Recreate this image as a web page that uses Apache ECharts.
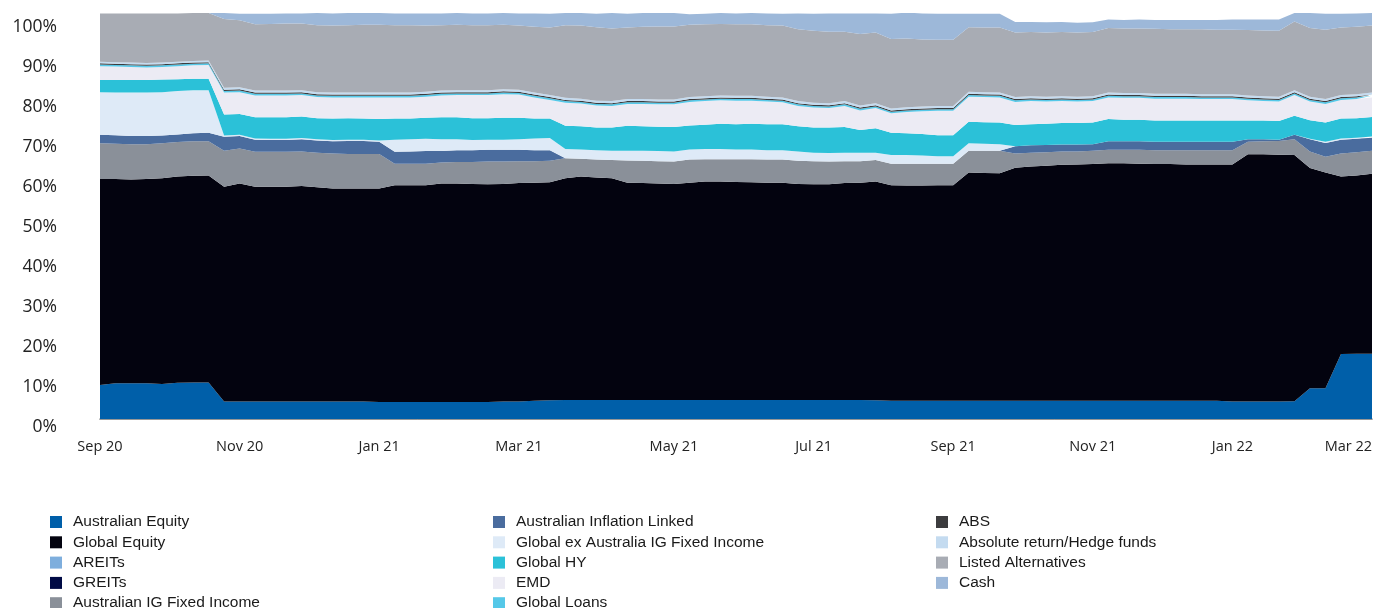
<!DOCTYPE html>
<html>
<head>
<meta charset="utf-8">
<script src="https://cdn.jsdelivr.net/npm/echarts@6/dist/echarts.min.js"></script>
<style>
html,body{margin:0;padding:0;background:#fff;}
#chart{width:1375px;height:608px;}
</style>
</head>
<body>
<div id="chart"></div>
<script>
// Weekly observation dates (category axis)
const categories = [
'2020-09-04','2020-09-11','2020-09-18','2020-09-25','2020-10-02','2020-10-09','2020-10-16','2020-10-23','2020-10-30','2020-11-06',
'2020-11-13','2020-11-20','2020-11-27','2020-12-04','2020-12-11','2020-12-18','2020-12-25','2021-01-01','2021-01-08','2021-01-15',
'2021-01-22','2021-01-29','2021-02-05','2021-02-12','2021-02-19','2021-02-26','2021-03-05','2021-03-12','2021-03-19','2021-03-26',
'2021-04-02','2021-04-09','2021-04-16','2021-04-23','2021-04-30','2021-05-07','2021-05-14','2021-05-21','2021-05-28','2021-06-04',
'2021-06-11','2021-06-18','2021-06-25','2021-07-02','2021-07-09','2021-07-16','2021-07-23','2021-07-30','2021-08-06','2021-08-13',
'2021-08-20','2021-08-27','2021-09-03','2021-09-10','2021-09-17','2021-09-24','2021-10-01','2021-10-08','2021-10-15','2021-10-22',
'2021-10-29','2021-11-05','2021-11-12','2021-11-19','2021-11-26','2021-12-03','2021-12-10','2021-12-17','2021-12-24','2021-12-31',
'2022-01-07','2022-01-14','2022-01-21','2022-01-28','2022-02-04','2022-02-11','2022-02-18','2022-02-25','2022-03-04','2022-03-11',
'2022-03-18','2022-03-25','2022-03-31'
];

// X tick labels and the category index they sit on
const tickLabels = ['Sep 20','Nov 20','Jan 21','Mar 21','May 21','Jul 21','Sep 21','Nov 21','Jan 22','Mar 22'];
const tickIndex  = [0, 9, 18, 27, 37, 46, 55, 64, 73, 82];

// Series values (% of portfolio), stacked bottom to top
const australianEquity = [
8.4,8.8,8.8,8.8,8.6,8.9,9.0,9.0,4.3,4.3,
4.3,4.3,4.3,4.3,4.3,4.3,4.3,4.3,4.2,4.2,
4.2,4.2,4.2,4.2,4.2,4.2,4.3,4.3,4.5,4.6,
4.7,4.7,4.7,4.7,4.7,4.7,4.7,4.7,4.7,4.7,
4.7,4.7,4.7,4.7,4.7,4.7,4.7,4.7,4.7,4.7,
4.6,4.5,4.5,4.5,4.5,4.5,4.5,4.5,4.5,4.5,
4.5,4.5,4.5,4.5,4.5,4.5,4.5,4.5,4.5,4.5,
4.5,4.5,4.5,4.3,4.3,4.3,4.3,4.4,7.6,7.6,
16.0,16.1,16.1];
const globalEquity = [
50.7,50.3,50.2,50.3,50.7,50.8,50.9,51.0,52.9,53.7,
52.9,52.9,52.9,53.1,52.8,52.5,52.5,52.5,52.6,53.4,
53.4,53.4,53.8,53.8,53.7,53.6,53.6,53.8,53.7,53.7,
54.6,55.0,54.8,54.6,53.5,53.4,53.3,53.2,53.5,53.8,
53.8,53.7,53.6,53.5,53.5,53.2,53.1,53.1,53.4,53.5,
53.9,53.1,53.0,53.0,53.1,53.1,56.2,56.1,56.0,57.4,
57.7,57.9,58.1,58.2,58.3,58.5,58.5,58.4,58.3,58.3,
58.2,58.2,58.2,58.4,60.9,60.9,60.8,60.6,54.2,53.1,
43.7,43.9,44.3];
const areits = [
0,0,0,0,0,0,0,0,0,0, 0,0,0,0,0,0,0,0,0,0, 0,0,0,0,0,0,0,0,0,0,
0,0,0,0,0,0,0,0,0,0, 0,0,0,0,0,0,0,0,0,0, 0,0,0,0,0,0,0,0,0,0,
0,0,0,0,0,0,0,0,0,0, 0,0,0,0,0,0,0,0,0,0, 0,0,0];
const greits = [
0,0,0,0,0,0,0,0,0,0, 0,0,0,0,0,0,0,0,0,0, 0,0,0,0,0,0,0,0,0,0,
0,0,0,0,0,0,0,0,0,0, 0,0,0,0,0,0,0,0,0,0, 0,0,0,0,0,0,0,0,0,0,
0,0,0,0,0,0,0,0,0,0, 0,0,0,0,0,0,0,0,0,0, 0,0,0];
const ausIGFixedIncome = [
8.8,8.7,8.7,8.6,8.6,8.5,8.5,8.4,8.9,8.6,
8.6,8.6,8.6,8.5,8.5,8.6,8.5,8.5,8.5,5.3,
5.3,5.3,5.2,5.3,5.4,5.6,5.5,5.4,5.3,5.3,
4.9,4.4,4.4,4.5,5.5,5.5,5.5,5.5,5.7,5.5,
5.5,5.6,5.7,5.7,5.7,5.7,5.7,5.6,5.4,5.3,
5.3,5.3,5.4,5.4,5.3,5.3,5.4,5.5,5.6,3.5,
3.4,3.3,3.3,3.2,3.3,3.3,3.3,3.4,3.4,3.4,
3.5,3.5,3.5,3.5,3.1,3.2,3.4,3.9,4.1,3.9,
5.7,5.7,5.7];
const ausInflationLinked = [
2.1,2.1,2.0,2.0,1.9,1.9,2.0,2.1,3.4,3.1,
3.0,2.9,2.9,3.0,3.0,3.0,3.2,3.2,3.0,2.9,
3.0,3.1,2.8,2.9,2.9,2.9,2.9,2.8,2.7,2.6,
0,0,0,0,0,0,0,0,0,0,
0,0,0,0,0,0,0,0,0,0,
0,0,0,0,0,0,0,0,0,1.8,
1.8,1.8,1.7,1.7,1.6,2.1,2.1,2.1,2.1,2.1,
2.1,2.1,2.1,2.1,0.6,0.5,0.3,1.1,3.0,3.4,
3.4,3.3,3.2];
const globalExAusIGFI = [
10.5,10.5,10.7,10.7,10.7,10.7,10.6,10.5,0.3,0.3,
0.3,0.3,0.3,0.3,0.3,0.3,0.3,0.3,0.3,3.0,
3.0,3.0,2.9,2.7,2.5,2.5,2.5,2.6,2.9,3.0,
2.3,2.3,2.3,2.3,2.4,2.5,2.5,2.5,2.5,2.5,
2.5,2.4,2.4,2.3,2.3,2.3,2.1,2.1,2.1,2.1,
1.8,2.1,2.1,2.0,1.8,1.8,1.8,1.7,1.6,0,
0,0,0,0,0,0,0,0,0,0,
0,0,0,0,0,0,0,0,0.1,0.3,
0.3,0.3,0.3];
const globalHY = [
3.0,3.1,3.1,3.1,3.1,2.9,2.8,2.8,5.2,5.1,
5.2,5.3,5.3,5.3,5.2,5.3,5.3,5.2,5.3,5.2,
5.1,5.2,5.4,5.4,5.4,5.3,5.4,5.3,4.9,4.8,
5.7,5.7,5.6,5.7,6.1,6.0,6.0,6.0,5.9,6.0,
6.2,6.2,6.3,6.4,6.4,6.2,6.2,6.3,6.3,5.6,
6.0,5.5,5.4,5.3,5.2,5.2,5.3,5.3,5.3,5.2,
5.2,5.2,5.3,5.3,5.3,5.5,5.3,5.3,5.2,5.2,
5.2,5.2,5.2,5.2,4.6,4.6,4.6,4.7,4.6,4.7,
4.9,4.8,4.8];
const emd = [
3.4,3.3,3.2,3.1,3.1,3.2,3.3,3.4,5.4,5.4,
5.4,5.4,5.4,5.3,5.2,5.2,5.1,5.2,5.3,5.2,
5.2,5.2,5.4,5.5,5.7,5.7,5.8,5.7,5.2,4.6,
5.7,5.6,5.4,5.3,5.4,5.5,5.5,5.6,5.8,5.8,
5.8,5.8,5.7,5.6,5.4,5.0,4.9,4.8,5.2,4.8,
5.0,4.8,5.2,5.6,6.0,6.0,6.2,6.2,6.2,5.7,
5.7,5.5,5.4,5.3,5.3,5.3,5.4,5.4,5.4,5.4,
5.4,5.3,5.3,5.3,5.0,4.8,4.8,5.1,4.6,4.6,
4.6,4.7,4.8];
const globalLoans = [
0.4,0.4,0.4,0.4,0.4,0.4,0.4,0.4,0.4,0.4, 0.4,0.4,0.4,0.4,0.4,0.4,0.4,0.4,0.4,0.4,
0.4,0.4,0.4,0.4,0.4,0.4,0.4,0.4,0.4,0.4, 0.4,0.4,0.4,0.4,0.4,0.4,0.4,0.4,0.4,0.4,
0.4,0.4,0.4,0.4,0.4,0.4,0.4,0.4,0.4,0.4, 0.4,0.4,0.4,0.4,0.4,0.4,0.4,0.4,0.4,0.4,
0.4,0.4,0.4,0.4,0.4,0.4,0.4,0.4,0.4,0.4, 0.4,0.4,0.4,0.4,0.4,0.4,0.4,0.4,0.4,0.4,
0.4,0.4,0.4];
const abs = [
0.3,0.3,0.3,0.3,0.3,0.3,0.3,0.3,0.3,0.3, 0.3,0.3,0.3,0.3,0.3,0.3,0.3,0.3,0.3,0.3,
0.3,0.3,0.3,0.3,0.3,0.3,0.3,0.3,0.3,0.3, 0.3,0.3,0.3,0.3,0.3,0.3,0.3,0.3,0.3,0.3,
0.3,0.3,0.3,0.3,0.3,0.3,0.3,0.3,0.3,0.3, 0.3,0.3,0.3,0.3,0.3,0.3,0.3,0.3,0.3,0.3,
0.3,0.3,0.3,0.3,0.3,0.3,0.3,0.3,0.3,0.3, 0.3,0.3,0.3,0.3,0.3,0.3,0.3,0.3,0.3,0.3,
0.3,0.3,0.3];
const absoluteReturn = [
0.4,0.4,0.4,0.4,0.4,0.4,0.4,0.4,0.5,0.5, 0.5,0.5,0.5,0.5,0.5,0.5,0.5,0.5,0.5,0.5,
0.5,0.5,0.5,0.5,0.5,0.5,0.5,0.5,0.5,0.5, 0.5,0.5,0.5,0.5,0.5,0.5,0.5,0.5,0.5,0.5,
0.5,0.5,0.5,0.5,0.5,0.5,0.5,0.5,0.5,0.5, 0.5,0.5,0.5,0.5,0.5,0.5,0.5,0.5,0.5,0.5,
0.5,0.5,0.5,0.5,0.5,0.5,0.5,0.5,0.5,0.5, 0.5,0.5,0.5,0.5,0.5,0.5,0.5,0.5,0.5,0.5,
0.5,0.5,0.5];
const listedAlternatives = [
11.9,12.0,12.1,12.2,12.1,11.9,11.8,11.7,16.9,16.5,
16.3,16.4,16.5,16.4,16.5,16.5,16.6,16.7,16.7,16.6,
16.6,16.3,16.1,16.1,16.0,16.0,15.9,15.8,16.2,16.6,
17.9,18.0,18.1,17.9,17.6,17.8,18.0,18.0,17.8,17.7,
17.6,17.6,17.6,17.6,17.7,17.7,17.7,17.6,17.1,17.6,
17.4,17.1,16.9,16.5,16.3,16.3,15.9,15.9,16.0,15.9,
15.8,15.8,15.8,15.8,15.8,15.9,15.9,15.9,16.0,15.9,
15.9,16.0,15.9,15.9,16.1,16.2,16.2,16.9,16.9,17.1,
16.6,16.6,16.5];
const cash = [
0,0,0,0,0,0,0,0,1.5,1.6,
2.6,2.5,2.5,2.5,3.0,3.0,3.0,2.9,2.9,2.9,
2.9,3.0,2.9,2.9,2.9,2.9,2.9,3.0,3.3,3.4,
3.0,3.1,3.3,3.8,3.4,3.4,3.3,3.3,2.6,2.6,
2.7,2.7,2.8,2.9,2.9,3.9,4.2,4.5,4.5,5.1,
4.7,6.2,6.4,6.4,6.4,6.4,3.3,3.4,3.4,2.6,
2.5,2.5,2.5,2.4,2.4,2.1,2.1,2.2,2.2,2.3,
2.3,2.3,2.4,2.5,2.6,2.7,2.8,2.1,3.7,3.9,
3.4,3.3,3.1];

const seriesNames = ['Australian Equity','Global Equity','AREITs','GREITs','Australian IG Fixed Income',
  'Australian Inflation Linked','Global ex Australia IG Fixed Income','Global HY','EMD','Global Loans',
  'ABS','Absolute return/Hedge funds','Listed Alternatives','Cash'];
const seriesColors = ['#005fa9','#03030f','#7eaedd','#000a45','#8a9099',
  '#4a6c9e','#deeaf7','#2bc1d8','#ecebf4','#55c8e8',
  '#3c3c3e','#c4dbf0','#a8acb4','#9db8d9'];
const seriesData = [australianEquity, globalEquity, areits, greits, ausIGFixedIncome,
  ausInflationLinked, globalExAusIGFI, globalHY, emd, globalLoans,
  abs, absoluteReturn, listedAlternatives, cash];

const chart = echarts.init(document.getElementById('chart'), null, {renderer: 'canvas'});

const series = seriesNames.map((n, k) => ({
  name: n,
  type: 'line',
  stack: 'total',
  yAxisIndex: 0,
  data: seriesData[k],
  symbol: 'none',
  showSymbol: false,
  lineStyle: {width: 0},
  itemStyle: {color: seriesColors[k]},
  areaStyle: {color: seriesColors[k], opacity: 1},
  emphasis: {disabled: true},
  silent: true
}));

const legendBase = {
  orient: 'vertical',
  top: 514,
  height: 130,
  padding: 0,
  itemWidth: 12,
  itemHeight: 12,
  itemGap: 4.3,
  icon: 'rect',
  selectedMode: false,
  textStyle: {fontFamily: 'Liberation Sans, Arial, sans-serif', fontSize: 15.5, color: '#1a1a1a', padding: [0, 0, 0, 6], lineHeight: 15}
};

const option = {
  animation: false,
  backgroundColor: '#ffffff',
  grid: {left: 100, right: 2, top: 13, bottom: 189, containLabel: false},
  legend: [
    Object.assign({}, legendBase, {left: 50, data: seriesNames.slice(0, 5)}),
    Object.assign({}, legendBase, {left: 493, data: seriesNames.slice(5, 10)}),
    Object.assign({}, legendBase, {left: 936, data: seriesNames.slice(10, 14)})
  ],
  xAxis: [{
    type: 'category',
    boundaryGap: false,
    data: categories,
    axisLine: {show: true, lineStyle: {color: '#8f8f8f', width: 1}},
    axisTick: {show: false},
    splitLine: {show: false},
    axisLabel: {
      interval: (idx) => tickIndex.indexOf(idx) >= 0,
      formatter: (v, idx) => { const p = tickIndex.indexOf(idx); return p >= 0 ? tickLabels[p] : ''; },
      margin: 20,
      fontFamily: 'Open Sans, sans-serif',
      fontSize: 14.5,
      color: '#222',
      alignMaxLabel: 'right',
      hideOverlap: false
    }
  }, {
    type: 'category',
    position: 'top',
    boundaryGap: false,
    data: categories,
    axisLine: {show: true, lineStyle: {color: '#9a9a9a', width: 1.5}},
    axisTick: {show: false},
    axisLabel: {show: false},
    splitLine: {show: false}
  }],
  yAxis: [{
    type: 'value',
    min: 0,
    max: 100,
    interval: 10,
    axisLine: {show: false},
    axisTick: {show: false},
    splitLine: {show: false},
    axisLabel: {show: false}
  }, {
    // label-only axis: the reference spaces its % labels 40px apart
    type: 'value',
    position: 'left',
    min: 0,
    max: 101.5,
    interval: 10,
    axisLine: {show: false},
    axisTick: {show: false},
    splitLine: {show: false},
    axisLabel: {
      formatter: (v) => (Math.abs(v % 10) < 1e-6 ? v + '%' : ''),
      margin: 43,
      verticalAlign: 'top',
      lineHeight: 16,
      fontFamily: 'Open Sans, sans-serif',
      fontSize: 17.5,
      color: '#222',
      showMaxLabel: true
    }
  }],
  series: series
};
chart.setOption(option);
</script>
</body>
</html>
